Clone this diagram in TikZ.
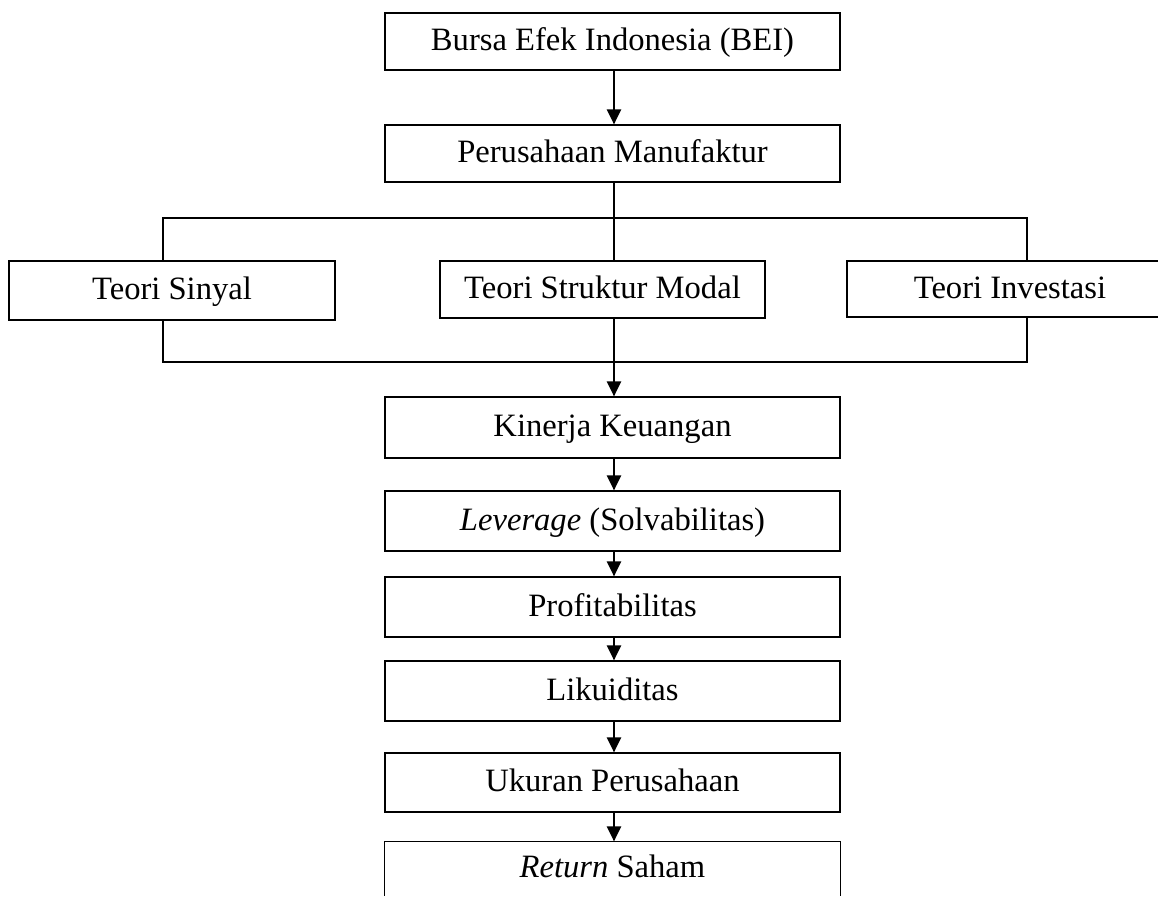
\documentclass[tikz,border=0pt]{standalone}
\usepackage{fontspec}
\setmainfont{Liberation Serif}
\usetikzlibrary{arrows.meta}
\begin{document}
\begin{tikzpicture}[x=0.5pt,y=-0.5pt,
  box/.style={draw=black, line width=0.6pt, rectangle, inner sep=0pt, align=center,
    text height=12pt, text depth=2.5pt,
    font=\fontsize{16.3}{19}\selectfont},
  wide/.style={box, minimum width=227.5pt},
  conn/.style={line width=0.6pt},
  arr/.style={line width=1.1pt, -{Triangle[length=7.5pt,width=7pt]}}]
\useasboundingbox (0,0) rectangle (1158,897);
% boxes
\node[wide, minimum height=28.5pt] (bei) at (612.5,41.5) {Bursa Efek Indonesia (BEI)};
\node[wide, minimum height=28.5pt] (pm) at (612.5,153.5) {Perusahaan Manufaktur};
\node[box, minimum width=163pt, minimum height=29.5pt] (ts) at (172,290.5) {Teori Sinyal};
\node[box, minimum width=162.5pt, minimum height=28.5pt] (tsm) at (602.5,289.5) {Teori Struktur Modal};
\node[box, minimum width=163pt, minimum height=28pt] (ti) at (1010,289) {Teori Investasi};
\node[wide, minimum height=30.5pt] (kk) at (612.5,427.5) {Kinerja Keuangan};
\node[wide, minimum height=30pt] (lev) at (612.5,521) {\textit{Leverage} (Solvabilitas)};
\node[wide, minimum height=30pt] (prof) at (612.5,607) {Profitabilitas};
\node[wide, minimum height=30pt] (lik) at (612.5,691) {Likuiditas};
\node[wide, minimum height=29.5pt] (uk) at (612.5,782.5) {Ukuran Perusahaan};
\node[wide, draw=none, minimum height=26.5pt] (ret) at (612.5,868.5) {\textit{Return} Saham};
\draw[conn] (ret.south west) |- (ret.north east) -- (ret.south east);
% coordinates of the frame round the theories
\coordinate (tl) at (163,218);
\coordinate (tr) at (1027,218);
\coordinate (bl) at (163,362);
\coordinate (br) at (1027,362);
\coordinate (ax) at (614,0);
% connectors
\draw[arr] (bei.south -| ax) -- (pm.north -| ax);
\draw[conn] (pm.south -| ax) -- (tsm.north -| ax);
\draw[conn] (ts.north -| tl) -- (tl) -- (tr) -- (ti.north -| tr);
\draw[conn] (ts.south -| bl) -- (bl) -- (br) -- (ti.south -| br);
\draw[arr] (tsm.south -| ax) -- (kk.north -| ax);
\draw[arr] (kk.south -| ax) -- (lev.north -| ax);
\draw[arr] (lev.south -| ax) -- (prof.north -| ax);
\draw[arr] (prof.south -| ax) -- (lik.north -| ax);
\draw[arr] (lik.south -| ax) -- (uk.north -| ax);
\draw[arr] (uk.south -| ax) -- (ret.north -| ax);
\end{tikzpicture}
\end{document}
